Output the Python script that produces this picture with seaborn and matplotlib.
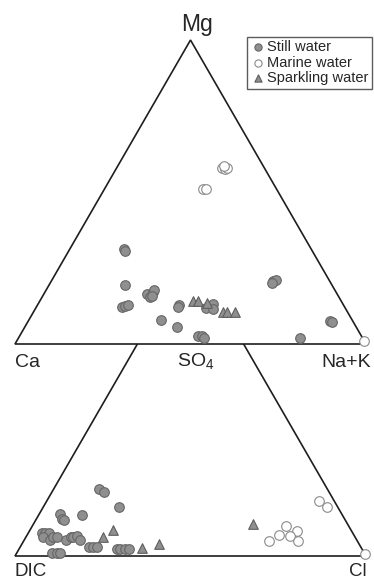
import numpy as np
import pandas as pd
import matplotlib
matplotlib.use('Agg')
import matplotlib.pyplot as plt
import seaborn as sns

# Upper triangle (cations), values in % : Mg (top) and Na+K (right), Ca = rest
still_mg = [31.2, 30.6, 19.4, 16.4, 15.6, 17.2, 17.8, 15.8, 12.3, 12.6, 12.8, 12.8, 12.1,
            7.9, 5.7, 2.6, 2.6, 2.0, 11.7, 13.2, 11.4, 20.7, 21.1, 20.2, 7.7, 7.3, 2.1]
still_nak = [15.5, 15.9, 21.6, 29.3, 30.7, 30.8, 30.8, 31.2, 24.3, 25.0, 25.9, 40.4, 40.5,
             37.6, 43.4, 50.9, 51.9, 52.9, 48.7, 49.9, 50.8, 63.2, 63.8, 63.1, 85.9, 86.8, 80.2]
marine_mg = [57.9, 57.6, 57.9, 58.6, 51.0, 51.0, 1.0]
marine_nak = [30.0, 31.0, 31.4, 30.3, 28.1, 28.9, 99.0]
sparkling_mg = [14.1, 14.1, 13.4, 10.6, 10.4, 10.4]
sparkling_nak = [43.7, 45.2, 48.1, 53.9, 55.1, 57.5]

# Lower triangle (anions), values in % : SO4 (top) and Cl (right), DIC = rest
still_so4 = [21.9, 21.0, 16.2, 13.6, 13.7, 12.3, 11.8, 7.7, 7.5, 7.5, 6.4, 5.3, 6.4, 6.4, 5.3,
             6.2, 6.4, 6.6, 5.3, 3.1, 3.1, 3.1, 2.3, 2.3, 2.3, 2.3, 1.1, 1.1, 1.1]
still_cl = [13.0, 14.9, 21.4, 12.2, 6.1, 7.2, 8.2, 3.8, 4.8, 5.8, 4.9, 7.3, 7.7, 8.9, 11.9,
            12.8, 13.4, 14.3, 15.9, 19.4, 20.8, 21.8, 27.8, 28.8, 30.2, 31.4, 9.9, 11.3, 12.3]
marine_so4 = [18.1, 16.0, 10.0, 8.1, 7.0, 6.7, 5.0, 4.9, 0.5]
marine_cl = [77.7, 81.0, 72.3, 76.3, 71.8, 75.1, 78.2, 69.8, 99.5]
sparkling_so4 = [8.6, 6.2, 2.7, 3.9, 10.4]
sparkling_cl = [23.7, 21.9, 34.7, 39.2, 62.5]

groups = ['Still water', 'Marine water', 'Sparkling water']

H = np.sqrt(3) / 2
OFFSET = 0.604  # vertical gap between the two triangle bases


def tern_xy(top, right, dy=0.0):
    top = np.asarray(top) / 100.0
    right = np.asarray(right) / 100.0
    return right + top / 2, top * H - dy


rows = []
for name, t, r in [('Still water', still_mg, still_nak),
                   ('Marine water', marine_mg, marine_nak),
                   ('Sparkling water', sparkling_mg, sparkling_nak)]:
    x, y = tern_xy(t, r)
    rows.append(pd.DataFrame({'x': x, 'y': y, 'group': name}))
for name, t, r in [('Still water', still_so4, still_cl),
                   ('Marine water', marine_so4, marine_cl),
                   ('Sparkling water', sparkling_so4, sparkling_cl)]:
    x, y = tern_xy(t, r, OFFSET)
    rows.append(pd.DataFrame({'x': x, 'y': y, 'group': name}))
df = pd.concat(rows, ignore_index=True)

sns.set_style('white')
plt.rcParams['font.family'] = ['Liberation Sans', 'DejaVu Sans']
plt.rcParams['mathtext.fontset'] = 'custom'
plt.rcParams['mathtext.rm'] = 'Liberation Sans'

fig = plt.figure(figsize=(3.74, 5.80), dpi=100)
ax = fig.add_axes([0, 0, 1, 1])

# lower triangle first, upper triangle (white filled) hides its top
ax.add_patch(plt.Polygon([[0, -OFFSET], [1, -OFFSET], [0.5, H - OFFSET]], closed=True,
                         facecolor='white', edgecolor='#1e1e1e', lw=1.2, zorder=1))
ax.add_patch(plt.Polygon([[0, 0], [1, 0], [0.5, H]], closed=True,
                         facecolor='white', edgecolor='#1e1e1e', lw=1.2, zorder=2))

styles = {
    'Still water': dict(marker='o', color='#8f8f8f', edgecolor='#666666'),
    'Marine water': dict(marker='o', color='white', edgecolor='#8a8a8a'),
    'Sparkling water': dict(marker='^', color='#8f8f8f', edgecolor='#5e5e5e'),
}
for g in groups:
    sub = df[df['group'] == g]
    sns.scatterplot(data=sub, x='x', y='y', ax=ax, s=48, linewidth=0.8,
                    label=g, zorder=3, **styles[g])

# corner labels
ax.text(0.518, H + 0.026, 'Mg', fontsize=16.5, ha='center', va='baseline')
ax.text(0.0, -0.065, 'Ca', fontsize=14, ha='left', va='baseline')
ax.text(0.516, -0.065, 'SO$_\\mathregular{4}$', fontsize=14, ha='center', va='baseline')
ax.text(1.014, -0.065, 'Na+K', fontsize=14, ha='right', va='baseline')
ax.text(0.0, -OFFSET - 0.058, 'DIC', fontsize=13.5, ha='left', va='baseline')
ax.text(1.003, -OFFSET - 0.058, 'Cl', fontsize=13.5, ha='right', va='baseline')

leg = ax.legend(loc='upper right', bbox_to_anchor=(0.995, 0.937), fontsize=10.5,
                frameon=True, fancybox=False, borderpad=0.25, labelspacing=0.1,
                handletextpad=0.2, handlelength=0.9, borderaxespad=0, markerscale=0.75)
leg.get_frame().set_edgecolor('#333333')
leg.get_frame().set_linewidth(1.0)

ax.set_xlim(-15 / 351, 359 / 351)
ax.set_ylim(-236 / 351, 344 / 351)
ax.set_aspect('equal')
ax.axis('off')

fig.savefig('out.png', dpi=100, facecolor='white')
